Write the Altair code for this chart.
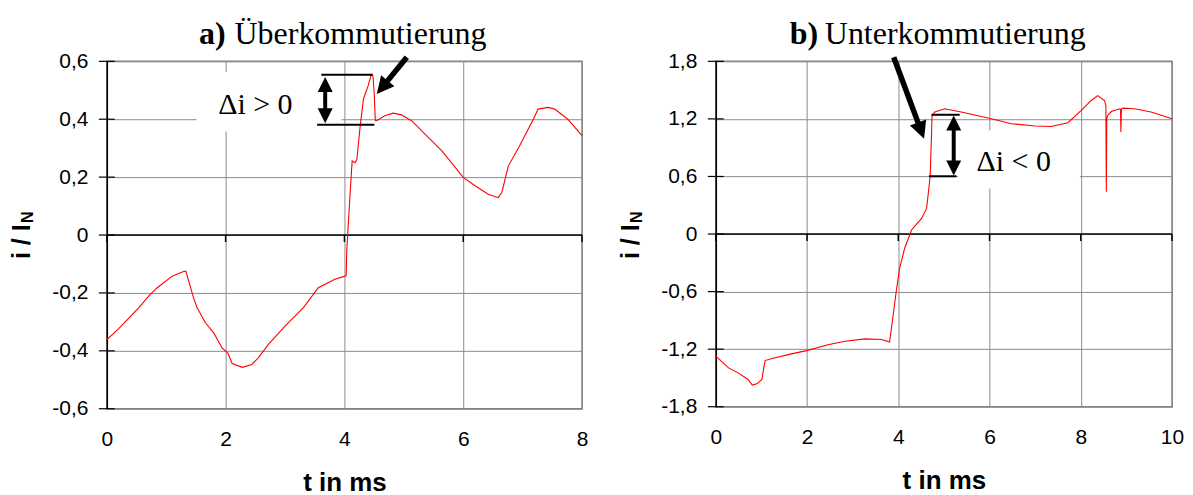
import altair as alt
import pandas as pd

# ---------------- data ----------------
t_a = [0.0, 0.2, 0.54, 0.73, 0.85, 1.10, 1.28, 1.33, 1.46, 1.52, 1.66, 1.80, 1.94, 2.04, 2.11,
       2.28, 2.44, 2.55, 2.72, 3.0, 3.31, 3.56, 3.84, 4.01, 4.03, 4.04, 4.10, 4.13, 4.18, 4.21,
       4.26, 4.32, 4.40, 4.45, 4.48, 4.50, 4.52, 4.54, 4.68, 4.82, 4.96, 5.13, 5.36, 5.64, 6.0,
       6.20, 6.42, 6.59, 6.65, 6.76, 6.95, 7.18, 7.26, 7.43, 7.54, 7.76, 8.0]
i_a = [-0.361, -0.323, -0.251, -0.205, -0.182, -0.142, -0.127, -0.125, -0.217, -0.251, -0.303,
       -0.338, -0.390, -0.409, -0.444, -0.457, -0.447, -0.424, -0.378, -0.315, -0.251, -0.182,
       -0.153, -0.142, -0.139, -0.05, 0.158, 0.256, 0.25, 0.262, 0.366, 0.470, 0.516, 0.553,
       0.550, 0.493, 0.395, 0.395, 0.412, 0.421, 0.415, 0.395, 0.348, 0.291, 0.199, 0.170,
       0.141, 0.129, 0.147, 0.239, 0.308, 0.400, 0.435, 0.441, 0.435, 0.400, 0.343]

t_b = [0.0, 0.28, 0.49, 0.71, 0.80, 0.90, 1.01, 1.04, 1.08, 1.23, 1.66, 1.99, 2.46, 2.83, 3.27,
       3.63, 3.81, 3.85, 3.96, 4.03, 4.14, 4.29, 4.51, 4.62, 4.67, 4.70, 4.73, 4.74, 4.80, 5.02,
       5.38, 5.97, 6.48, 6.99, 7.35, 7.72, 8.01, 8.23, 8.37, 8.52, 8.55, 8.56, 8.57, 8.59, 8.67,
       8.85, 8.87, 8.88, 8.89, 8.92, 9.18, 9.54, 10.0]
i_b = [-1.273, -1.395, -1.447, -1.516, -1.575, -1.561, -1.516, -1.429, -1.319, -1.298, -1.249,
       -1.215, -1.153, -1.117, -1.093, -1.100, -1.125, -0.979, -0.581, -0.356, -0.148, 0.042,
       0.163, 0.267, 0.475, 0.613, 1.063, 1.236, 1.271, 1.305, 1.271, 1.209, 1.150, 1.126,
       1.121, 1.160, 1.288, 1.392, 1.443, 1.392, 1.34, 0.44, 1.2, 1.236, 1.277, 1.305, 1.30,
       1.063, 1.30, 1.312, 1.305, 1.271, 1.201]

xticks_a = [0, 2, 4, 6, 8]
yticks_a = [-0.6, -0.4, -0.2, 0, 0.2, 0.4, 0.6]
xticks_b = [0, 2, 4, 6, 8, 10]
yticks_b = [-1.8, -1.2, -0.6, 0, 0.6, 1.2, 1.8]

title_a = ("a)", "Überkommutierung")
title_b = ("b)", "Unterkommutierung")
label_a = "Δi > 0"
label_b = "Δi < 0"
x_title = "t in ms"

SANS = "Liberation Sans"
SERIF = "Liberation Serif"
RED = "#ff0000"

LABEL_EXPR = ("datum.value == 0 ? '0' : (datum.value < 0 ? '-' : '') + "
              "replace(format(abs(datum.value), '.1f'), '.', ',')")


def panel(t, i, xticks, yticks, w, h, ann, title):
    xs = alt.Scale(domain=[xticks[0], xticks[-1]], nice=False, zero=False)
    ys = alt.Scale(domain=[yticks[0], yticks[-1]], nice=False, zero=False)
    xa = alt.Axis(values=xticks, title=x_title, grid=True, domain=False, ticks=False, tickSize=0,
                  labelPadding=20, titlePadding=20, labelFontSize=21, titleFontSize=26,
                  titleFontWeight="bold", labelFont=SANS, titleFont=SANS,
                  labelColor="black", titleColor="black", gridColor="#8c8c8c", gridWidth=1,
                  labelFlush=False)
    ya = alt.Axis(values=yticks, title=None, grid=True, domain=True, domainColor="black",
                  domainWidth=1.5, ticks=False, tickSize=0, labelPadding=19, labelFontSize=21,
                  labelFont=SANS, labelColor="black", gridColor="#8c8c8c", gridWidth=1,
                  labelExpr=LABEL_EXPR, labelFlush=False)

    def X(f="t"):
        return alt.X(f + ":Q", scale=xs, axis=xa)

    def Y(f="v"):
        return alt.Y(f + ":Q", scale=ys, axis=ya)

    curve = pd.DataFrame({"t": t, "v": i})

    box = alt.Chart(pd.DataFrame([ann["box"]])).mark_rect(color="white").encode(
        x=X(), x2="t2", y=Y(), y2="v2")

    zero = alt.Chart(pd.DataFrame({"t": [xticks[0]], "t2": [xticks[-1]], "v": [0.0]})).mark_rule(
        color="black", strokeWidth=1.5).encode(x=X(), x2="t2", y=Y())

    xtk = alt.Chart(pd.DataFrame({"t": xticks, "v": [0.0] * len(xticks)})).mark_rule(
        color="black", strokeWidth=1.5, y2Offset=7).encode(x=X(), y=Y(), y2="v")

    ytk = alt.Chart(pd.DataFrame({"t": [xticks[0]] * len(yticks), "v": yticks})).mark_rule(
        color="black", strokeWidth=1.2, xOffset=-8, x2Offset=8).encode(x=X(), x2="t", y=Y())

    line = alt.Chart(curve).mark_line(color=RED, strokeWidth=1.1, interpolate="linear").encode(
        x=X(), y=Y(), order="idx:Q").transform_window(idx="row_number()")

    brackets = alt.Chart(pd.DataFrame(ann["brackets"])).mark_rule(
        color="black", strokeWidth=2).encode(x=X(), x2="t2", y=Y())

    shafts_d = pd.DataFrame(ann["shafts"])
    shafts = alt.Chart(shafts_d).mark_rule(color="black", strokeCap="butt").encode(
        x=X(), x2="t2", y=Y(), y2="v2",
        strokeWidth=alt.StrokeWidth("w:Q", scale=None))

    heads = alt.Chart(pd.DataFrame(ann["heads"])).mark_point(
        shape="M0,0 L1,2 L-1,2 Z", filled=True, color="black", opacity=1, strokeWidth=0).encode(
        x=X(), y=Y(), angle=alt.Angle("ang:Q", scale=None),
        size=alt.Size("s:Q", scale=None))

    lab = alt.Chart(pd.DataFrame([ann["label"]])).mark_text(
        font=SERIF, fontSize=30, align="center", baseline="alphabetic", color="black").encode(
        x=X(), y=Y(), text="txt:N")

    tt = ann["title"]
    t1 = alt.Chart(pd.DataFrame([{"t": tt[0], "v": tt[2], "txt": title[0]}])).mark_text(
        font=SERIF, fontSize=32, fontWeight="bold", align="right", baseline="alphabetic",
        color="black").encode(x=X(), y=Y(), text="txt:N")
    t2 = alt.Chart(pd.DataFrame([{"t": tt[1], "v": tt[2], "txt": title[1]}])).mark_text(
        font=SERIF, fontSize=32, align="left", baseline="alphabetic",
        color="black").encode(x=X(), y=Y(), text="txt:N")

    one = pd.DataFrame({"a": [0]})
    yt1 = alt.Chart(one).mark_text(font=SANS, fontSize=25, fontWeight="bold", angle=270,
                                   align="left", baseline="alphabetic", color="black").encode(
        x=alt.value(-77), y=alt.value(198), text=alt.value("i / I"))
    yt2 = alt.Chart(one).mark_text(font=SANS, fontSize=16, fontWeight="bold", angle=270,
                                   align="left", baseline="alphabetic", color="black", dy=3).encode(
        x=alt.value(-77), y=alt.value(162), text=alt.value("N"))

    return alt.layer(box, zero, xtk, ytk, line, brackets, shafts, heads, lab, t1, t2, yt1, yt2
                     ).properties(width=w, height=h)


ann_a = {
    "box": {"t": 1.51, "t2": 3.95, "v": 0.358, "v2": 0.563},
    "brackets": {"t": [3.61, 3.54], "t2": [4.477, 4.504], "v": [0.5536, 0.3806]},
    "shafts": {"t": [5.05, 3.676], "t2": [4.65, 3.676], "v": [0.614, 0.51], "v2": [0.5135, 0.42],
               "w": [5.5, 4]},
    "heads": {"t": [4.545, 3.676, 3.676], "v": [0.487, 0.546, 0.386], "ang": [219.3, 0, 180],
              "s": [300, 225, 225]},
    "label": {"t": 2.5, "v": 0.418, "txt": label_a},
    "title": (2.0, 2.15, 0.66),
}
ann_b = {
    "box": {"t": 5.31, "t2": 7.98, "v": 0.475, "v2": 1.08},
    "brackets": {"t": [4.727, 4.674], "t2": [5.346, 5.274], "v": [1.243, 0.602]},
    "shafts": {"t": [3.90, 5.215], "t2": [4.488, 5.215], "v": [1.842, 1.14], "v2": [1.091, 0.70],
               "w": [5.5, 4]},
    "heads": {"t": [4.565, 5.215, 5.215], "v": [0.994, 1.236, 0.61], "ang": [159.6, 0, 180],
              "s": [300, 225, 225]},
    "label": {"t": 6.53, "v": 0.654, "txt": label_b},
    "title": (2.245, 2.39, 1.98),
}

left = panel(t_a, i_a, xticks_a, yticks_a, 476, 348, ann_a, title_a)
right = panel(t_b, i_b, xticks_b, yticks_b, 457, 346, ann_b, title_b)

chart = alt.hconcat(left, right, spacing=29).properties(
    padding={"left": 1, "top": 8, "right": 0, "bottom": 2},
    background="white",
).configure_view(stroke="#808080", strokeWidth=1.5)

chart.save("out.html", embed_options={"renderer": "svg", "actions": False})
